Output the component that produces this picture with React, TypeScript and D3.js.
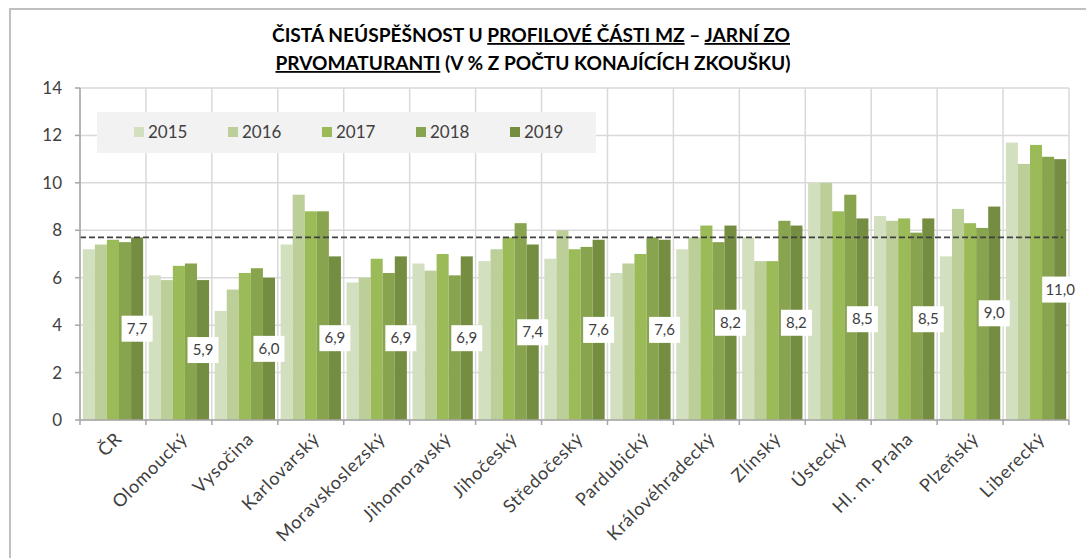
import React, { useEffect } from "react";
import * as d3 from "d3";

const categories = [
  "ČR", "Olomoucký", "Vysočina", "Karlovarský", "Moravskoslezský",
  "Jihomoravský", "Jihočeský", "Středočeský", "Pardubický", "Královéhradecký",
  "Zlínský", "Ústecký", "Hl. m. Praha", "Plzeňský", "Liberecký",
];
const years = ["2015", "2016", "2017", "2018", "2019"];
const v2015 = [7.2, 6.1, 4.6, 7.4, 5.8, 6.6, 6.7, 6.8, 6.2, 7.2, 7.7, 10.0, 8.6, 6.9, 11.7];
const v2016 = [7.4, 5.9, 5.5, 9.5, 6.0, 6.3, 7.2, 8.0, 6.6, 7.7, 6.7, 10.0, 8.4, 8.9, 10.8];
const v2017 = [7.6, 6.5, 6.2, 8.8, 6.8, 7.0, 7.7, 7.2, 7.0, 8.2, 6.7, 8.8, 8.5, 8.3, 11.6];
const v2018 = [7.5, 6.6, 6.4, 8.8, 6.2, 6.1, 8.3, 7.3, 7.7, 7.5, 8.4, 9.5, 7.9, 8.1, 11.1];
const v2019 = [7.7, 5.9, 6.0, 6.9, 6.9, 6.9, 7.4, 7.6, 7.6, 8.2, 8.2, 8.5, 8.5, 9.0, 11.0];
const seriesValues = [v2015, v2016, v2017, v2018, v2019];
const yTicks = [0, 2, 4, 6, 8, 10, 12, 14];
const averageLine = 7.7;

const colors = ["#d3e0c0", "#bccf98", "#9bbb59", "#88a44e", "#748d40"];
const FONT = "Lato, 'Open Sans', sans-serif";

export default function App() {
  useEffect(() => {
    document.body.style.margin = "0";
  }, []);

  const width = 1086;
  const height = 558;
  const plot = { left: 80, right: 1069, top: 88, bottom: 420 };

  const x = d3
    .scaleBand<string>()
    .domain(categories)
    .range([plot.left, plot.right])
    .paddingInner(0.085)
    .paddingOuter(0.0425);
  const xs = d3.scaleBand<string>().domain(years).range([0, x.bandwidth()]);
  const y = d3.scaleLinear().domain([0, 14]).range([plot.bottom, plot.top]);
  const step = x.step();
  const boundaries = d3.range(categories.length + 1).map((i) => plot.left + i * step);

  const legendX = 97;
  const legendY = 112;

  return (
    <svg width={width} height={height} style={{ display: "block", fontFamily: FONT }}>
      <rect x={0} y={0} width={width} height={height} fill="#fff" />
      <rect x={10} y={9} width={1090} height={560} fill="#fff" stroke="#c0c0c0" strokeWidth={2} />

      {/* title */}
      <text x={531} y={42} textAnchor="middle" fontSize={18} fontWeight="bold" fill="#000"
        textLength={518} lengthAdjust="spacingAndGlyphs">
        <tspan>ČISTÁ NEÚSPĚŠNOST U </tspan>
        <tspan textDecoration="underline">PROFILOVÉ ČÁSTI MZ</tspan>
        <tspan> – </tspan>
        <tspan textDecoration="underline">JARNÍ ZO</tspan>
      </text>
      <text x={533} y={70} textAnchor="middle" fontSize={18} fontWeight="bold" fill="#000"
        textLength={515} lengthAdjust="spacingAndGlyphs">
        <tspan textDecoration="underline">PRVOMATURANTI</tspan>
        <tspan> (V % Z POČTU KONAJÍCÍCH ZKOUŠKU)</tspan>
      </text>

      {/* grid */}
      {yTicks.map((t) => (
        <line key={"h" + t} x1={plot.left} x2={plot.right} y1={y(t)} y2={y(t)} stroke="#d9d9d9" strokeWidth={1.5} />
      ))}
      {boundaries.map((bx, i) => (
        <line key={"v" + i} x1={bx} x2={bx} y1={plot.top} y2={plot.bottom} stroke="#d9d9d9" strokeWidth={1.5} />
      ))}

      {/* legend */}
      <rect x={legendX} y={legendY} width={499} height={41} fill="#f2f2f2" />
      {years.map((yr, i) => (
        <g key={yr} transform={`translate(${legendX + 37 + i * 94},${legendY + 20})`}>
          <rect x={0} y={-5} width={10} height={10} fill={colors[i]} />
          <text x={14} y={6} fontSize={17} fill="#404040">{yr}</text>
        </g>
      ))}

      {/* bars */}
      {seriesValues.map((vals, si) =>
        vals.map((v, ci) => (
          <rect
            key={`b${si}-${ci}`}
            x={(x(categories[ci]) ?? 0) + (xs(years[si]) ?? 0)}
            y={y(v)}
            width={xs.bandwidth()}
            height={y(0) - y(v)}
            fill={colors[si]}
          />
        ))
      )}

      {/* average dashed line */}
      <line x1={plot.left} x2={1063} y1={y(averageLine)} y2={y(averageLine)} stroke="#404040"
        strokeWidth={1.6} strokeDasharray="6,3" />

      {/* data labels for 2019 */}
      {v2019.map((v, ci) => {
        const cx = (x(categories[ci]) ?? 0) + (xs("2019") ?? 0) + xs.bandwidth() / 2;
        const cy = y(v / 2);
        const label = d3.format(".1f")(v).replace(".", ",");
        const w = label.length > 3 ? 36 : 31;
        return (
          <g key={"l" + ci}>
            <rect x={cx - w / 2} y={cy - 13} width={w} height={26} fill="#fff" />
            <text x={cx} y={cy + 5} textAnchor="middle" fontSize={15} fill="#404040">{label}</text>
          </g>
        );
      })}

      {/* axes */}
      <line x1={plot.left} x2={plot.left} y1={plot.top} y2={plot.bottom} stroke="#a6a6a6" strokeWidth={1.5} />
      <line x1={plot.left} x2={plot.right} y1={plot.bottom} y2={plot.bottom} stroke="#a6a6a6" strokeWidth={1.5} />
      {yTicks.map((t) => (
        <g key={"yt" + t}>
          <line x1={plot.left - 5} x2={plot.left} y1={y(t)} y2={y(t)} stroke="#a6a6a6" strokeWidth={1.5} />
          <text x={62} y={y(t) + 6} textAnchor="end" fontSize={17} fill="#404040">{t}</text>
        </g>
      ))}
      {boundaries.map((bx, i) => (
        <line key={"xt" + i} x1={bx} x2={bx} y1={plot.bottom} y2={plot.bottom + 5} stroke="#a6a6a6" strokeWidth={1.5} />
      ))}
      {categories.map((c) => {
        const cx = (x(c) ?? 0) + x.bandwidth() / 2;
        return (
          <text key={"xl" + c} transform={`translate(${cx + 10},${plot.bottom + 20}) rotate(-45)`}
            textAnchor="end" fontSize={18} letterSpacing={0.8} fill="#404040">{c}</text>
        );
      })}
    </svg>
  );
}
